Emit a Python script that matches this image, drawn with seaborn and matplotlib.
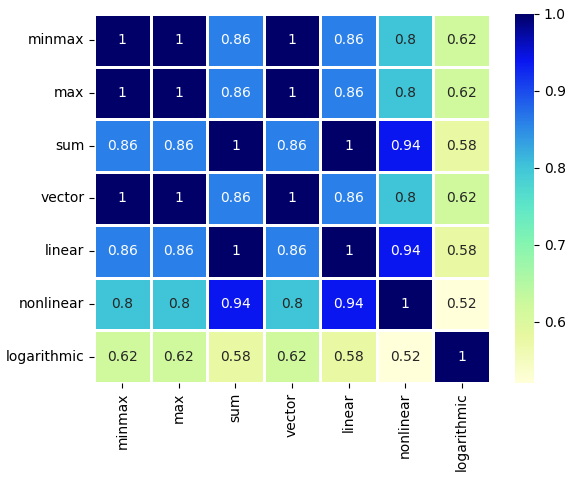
import numpy as np
import pandas as pd
import matplotlib
matplotlib.use('Agg')
import matplotlib.pyplot as plt
import seaborn as sns
from matplotlib.colors import LinearSegmentedColormap

names = ['minmax', 'max', 'sum', 'vector', 'linear', 'nonlinear', 'logarithmic']

corr_values = [
    [1.00, 1.00, 0.86, 1.00, 0.86, 0.80, 0.62],
    [1.00, 1.00, 0.86, 1.00, 0.86, 0.80, 0.62],
    [0.86, 0.86, 1.00, 0.86, 1.00, 0.94, 0.58],
    [1.00, 1.00, 0.86, 1.00, 0.86, 0.80, 0.62],
    [0.86, 0.86, 1.00, 0.86, 1.00, 0.94, 0.58],
    [0.80, 0.80, 0.94, 0.80, 0.94, 1.00, 0.52],
    [0.62, 0.62, 0.58, 0.62, 0.58, 0.52, 1.00],
]

corr = pd.DataFrame(corr_values, index=names, columns=names)

# colours picked off the reference colour bar
cmap = LinearSegmentedColormap.from_list('custom', [
    (0.000, '#ffffd9'),
    (0.125, '#e8f8a0'),
    (0.210, '#cef99c'),
    (0.375, '#86f5b0'),
    (0.480, '#5ee6c8'),
    (0.583, '#40c6d8'),
    (0.708, '#2a80e8'),
    (0.875, '#0a16f0'),
    (1.000, '#000068'),
])

fig = plt.figure(figsize=(5.72, 4.79), dpi=100)
ax = fig.add_axes([0.1643, 0.2004, 0.6923, 0.7704])
cax = fig.add_axes([0.9003, 0.2004, 0.0332, 0.7704])
sns.heatmap(corr, annot=True, cmap=cmap, linewidths=2, linecolor='white',
            ax=ax, cbar_ax=cax)
plt.savefig('out.png', dpi=100)
